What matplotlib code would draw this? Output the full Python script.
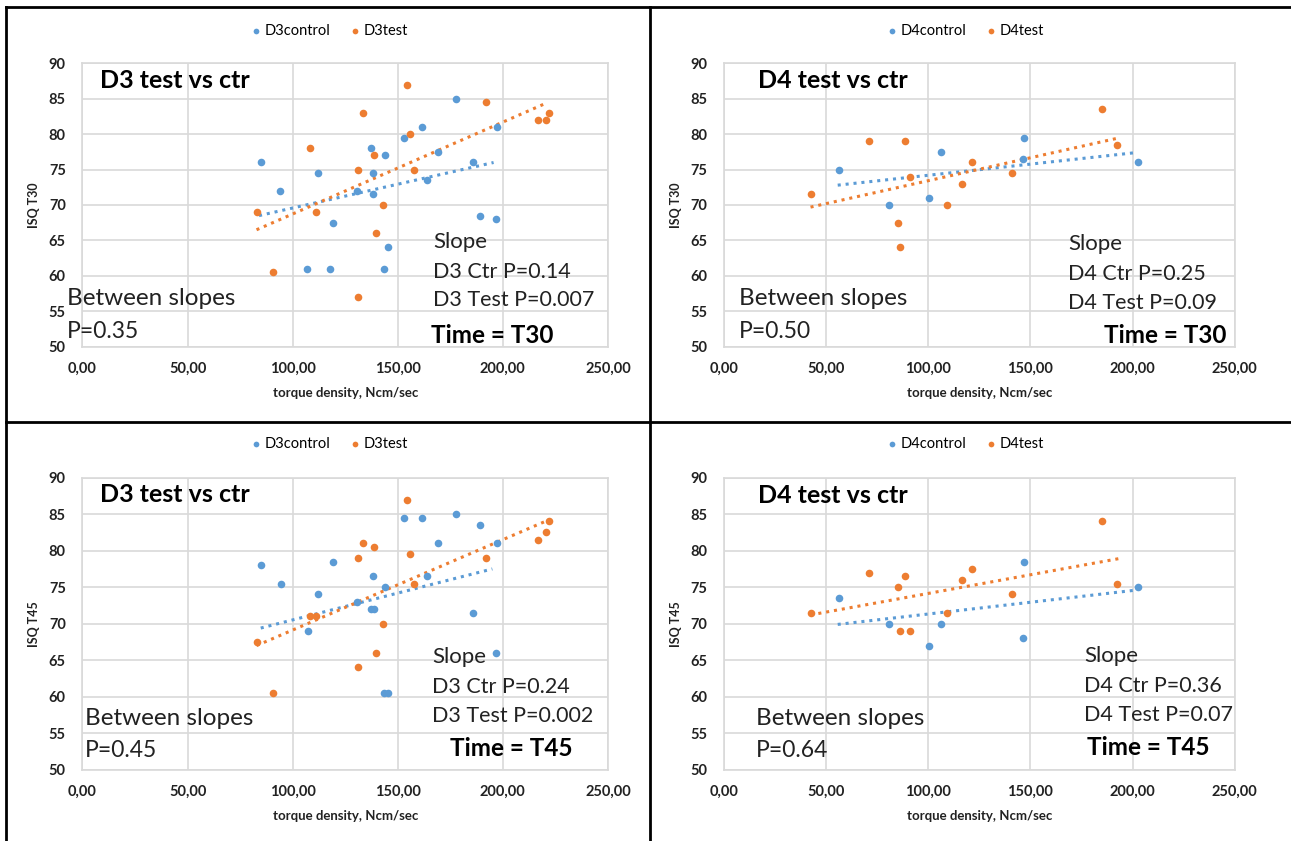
import numpy as np
import matplotlib
matplotlib.use('Agg')
import matplotlib.pyplot as plt
from matplotlib.lines import Line2D

plt.rcParams['font.family'] = ['Lato', 'DejaVu Sans']

BLUE = '#5B9BD5'
ORANGE = '#ED7D31'

# D3, time T30
d3_t30_ctrl_x = [85, 94, 112, 107, 117.7, 119, 130.7, 137.5, 138.1, 138.4, 143.7, 143.4, 145.3,
                 152.8, 161.4, 163.9, 169.3, 177.7, 185.6, 188.9, 196.7, 197.2]
d3_t30_ctrl_y = [76, 72, 74.5, 61, 61, 67.5, 72, 78, 74.5, 71.5, 77, 61, 64,
                 79.5, 81, 73.5, 77.5, 85, 76, 68.5, 68, 81]
d3_t30_test_x = [82.8, 90.7, 108.4, 110.9, 131.3, 133.4, 131, 138.6, 142.9, 139.7, 154.6, 155.7,
                 157.9, 192.1, 216.8, 220.4, 222]
d3_t30_test_y = [69, 60.5, 78, 69, 75, 83, 57, 77, 70, 66, 87, 80,
                 75, 84.5, 82, 82, 83]
# trendline ends
d3_t30_ctrl_trend_x = [84, 195.6]
d3_t30_ctrl_trend_y = [68.5, 76.0]
d3_t30_test_trend_x = [82.8, 220.4]
d3_t30_test_trend_y = [66.5, 84.35]

# D4, time T30
d4_t30_ctrl_x = [56.2, 81, 100.2, 106.3, 146.5, 146.9, 202.8]
d4_t30_ctrl_y = [75, 70, 71, 77.5, 76.5, 79.5, 76]
d4_t30_test_x = [42.4, 71, 88.6, 85.4, 86.4, 91.3, 109, 116.7, 121.3, 141, 185.2, 192.2]
d4_t30_test_y = [71.5, 79, 79, 67.5, 64, 74, 70, 73, 76, 74.5, 83.5, 78.5]
d4_t30_ctrl_trend_x = [55.7, 201.7]
d4_t30_ctrl_trend_y = [72.8, 77.4]
d4_t30_test_trend_x = [42.4, 192.2]
d4_t30_test_trend_y = [69.7, 79.4]

# D3, time T45
d3_t45_ctrl_x = [85, 94.3, 112, 107.1, 119.1, 130.7, 137.2, 138.6, 138.4, 143.7, 143.4, 145.3,
                 152.8, 161.4, 163.9, 169.3, 177.7, 185.6, 188.9, 196.7, 197.2]
d3_t45_ctrl_y = [78, 75.5, 74, 69, 78.5, 73, 72, 72, 76.5, 75, 60.5, 60.5,
                 84.5, 84.5, 76.5, 81, 85, 71.5, 83.5, 66, 81]
d3_t45_test_x = [82.8, 90.7, 108.4, 110.9, 131.3, 133.4, 131, 138.6, 142.9, 139.7, 154.6, 155.7,
                 157.9, 192.1, 216.8, 220.4, 222]
d3_t45_test_y = [67.5, 60.5, 71, 71, 79, 81, 64, 80.5, 70, 66, 87, 79.5,
                 75.5, 79, 81.5, 82.5, 84]
d3_t45_ctrl_trend_x = [84.8, 195]
d3_t45_ctrl_trend_y = [69.4, 77.5]
d3_t45_test_trend_x = [82.8, 221.7]
d3_t45_test_trend_y = [67, 84.2]

# D4, time T45
d4_t45_ctrl_x = [56.2, 81, 100.2, 106.3, 146.5, 146.9, 202.8]
d4_t45_ctrl_y = [73.5, 70, 67, 70, 68, 78.5, 75]
d4_t45_test_x = [42.4, 71, 85.4, 88.6, 86.4, 91.3, 109, 116.7, 121.3, 141, 185.2, 192.2]
d4_t45_test_y = [71.5, 77, 75, 76.5, 69, 69, 71.5, 76, 77.5, 74, 84, 75.5]
d4_t45_ctrl_trend_x = [55.7, 201.7]
d4_t45_ctrl_trend_y = [69.9, 74.6]
d4_t45_test_trend_x = [42.4, 193]
d4_t45_test_trend_y = [71.2, 78.9]

x_ticks = [0, 50, 100, 150, 200, 250]
x_tick_labels = ['0,00', '50,00', '100,00', '150,00', '200,00', '250,00']
y_ticks = [50, 55, 60, 65, 70, 75, 80, 85, 90]

panels = [
    dict(rect=[0.0639, 0.5878, 0.4070, 0.3369], cx=d3_t30_ctrl_x, cy=d3_t30_ctrl_y,
         tx=d3_t30_test_x, ty=d3_t30_test_y,
         ctr_tr=(d3_t30_ctrl_trend_x, d3_t30_ctrl_trend_y),
         test_tr=(d3_t30_test_trend_x, d3_t30_test_trend_y),
         names=('D3control', 'D3test'), ylabel='ISQ T30',
         title='D3 test vs ctr', title_pos=(0.033, 0.941),
         between_pos=(-0.029, 0.171, 0.053), p_between='P=0.35',
         slope_pos=(0.668, 0.368, 0.265, 0.165), ctr='D3 Ctr P=0.14', test='D3 Test P=0.007',
         time='Time = T30', time_pos=(0.664, 0.041), leg=(0.2556, 0.963)),
    dict(rect=[0.5607, 0.5878, 0.3958, 0.3369], cx=d4_t30_ctrl_x, cy=d4_t30_ctrl_y,
         tx=d4_t30_test_x, ty=d4_t30_test_y,
         ctr_tr=(d4_t30_ctrl_trend_x, d4_t30_ctrl_trend_y),
         test_tr=(d4_t30_test_trend_x, d4_t30_test_trend_y),
         names=('D4control', 'D4test'), ylabel='ISQ T30',
         title='D4 test vs ctr', title_pos=(0.0675, 0.939),
         between_pos=(0.030, 0.171, 0.053), p_between='P=0.50',
         slope_pos=(0.674, 0.361, 0.256, 0.154), ctr='D4 Ctr P=0.25', test='D4 Test P=0.09',
         time='Time = T30', time_pos=(0.743, 0.041), leg=(0.748, 0.963)),
    dict(rect=[0.0639, 0.0848, 0.4070, 0.3472], cx=d3_t45_ctrl_x, cy=d3_t45_ctrl_y,
         tx=d3_t45_test_x, ty=d3_t45_test_y,
         ctr_tr=(d3_t45_ctrl_trend_x, d3_t45_ctrl_trend_y),
         test_tr=(d3_t45_test_trend_x, d3_t45_test_trend_y),
         names=('D3control', 'D3test'), ylabel='ISQ T45',
         title='D3 test vs ctr', title_pos=(0.033, 0.941),
         between_pos=(0.005, 0.176, 0.067), p_between='P=0.45',
         slope_pos=(0.666, 0.385, 0.284, 0.185), ctr='D3 Ctr P=0.24', test='D3 Test P=0.002',
         time='Time = T45', time_pos=(0.699, 0.073), leg=(0.2556, 0.472)),
    dict(rect=[0.5607, 0.0848, 0.3958, 0.3472], cx=d4_t45_ctrl_x, cy=d4_t45_ctrl_y,
         tx=d4_t45_test_x, ty=d4_t45_test_y,
         ctr_tr=(d4_t45_ctrl_trend_x, d4_t45_ctrl_trend_y),
         test_tr=(d4_t45_test_trend_x, d4_t45_test_trend_y),
         names=('D4control', 'D4test'), ylabel='ISQ T45',
         title='D4 test vs ctr', title_pos=(0.0675, 0.938),
         between_pos=(0.062, 0.176, 0.067), p_between='P=0.64',
         slope_pos=(0.705, 0.389, 0.287, 0.187), ctr='D4 Ctr P=0.36', test='D4 Test P=0.07',
         time='Time = T45', time_pos=(0.710, 0.075), leg=(0.748, 0.472)),
]

fig = plt.figure(figsize=(12.91, 8.41), dpi=100)

for p in panels:
    ax = fig.add_axes(p['rect'])
    ax.scatter(p['cx'], p['cy'], s=30, color=BLUE, zorder=3, label=p['names'][0], linewidths=0)
    ax.scatter(p['tx'], p['ty'], s=30, color=ORANGE, zorder=3, label=p['names'][1], linewidths=0)
    # dotted linear trendlines
    ax.plot(*p['ctr_tr'], linestyle=(0, (1, 1.6)), color=BLUE, linewidth=2.2, zorder=2)
    ax.plot(*p['test_tr'], linestyle=(0, (1, 1.6)), color=ORANGE, linewidth=2.2, zorder=2)

    ax.set_xlim(0, 250)
    ax.set_ylim(50, 90)
    ax.set_xticks(x_ticks)
    ax.set_xticklabels(x_tick_labels)
    ax.set_yticks(y_ticks)
    ax.grid(True, color='#D9D9D9', linewidth=1.2)
    ax.set_axisbelow(True)
    for s in ax.spines.values():
        s.set_color('#D9D9D9')
        s.set_linewidth(1.2)
    ax.tick_params(length=0, labelsize=10.5, colors='#222222')
    ax.tick_params(axis='x', pad=11)
    ax.tick_params(axis='y', pad=12)
    for lab in ax.get_xticklabels() + ax.get_yticklabels():
        lab.set_fontweight('bold')
    ax.set_xlabel('torque density, Ncm/sec', fontsize=9.5, fontweight='bold', labelpad=8,
                  color='#222222')
    ax.set_ylabel(p['ylabel'], fontsize=9, fontweight='bold', labelpad=6, color='#222222')

    ax.text(p['title_pos'][0], p['title_pos'][1], p['title'], transform=ax.transAxes,
            fontsize=18, fontweight='bold', va='center', ha='left')
    bx, by1, by2 = p['between_pos']
    ax.text(bx, by1, 'Between slopes', transform=ax.transAxes, fontsize=17.5,
            va='center', ha='left', color='#222222')
    ax.text(bx, by2, p['p_between'], transform=ax.transAxes, fontsize=16.5,
            va='center', ha='left', color='#222222')
    sx, sy1, sy2, sy3 = p['slope_pos']
    ax.text(sx, sy1, 'Slope', transform=ax.transAxes, fontsize=16, va='center', ha='left',
            color='#222222')
    ax.text(sx, sy2, p['ctr'], transform=ax.transAxes, fontsize=15.5, va='center', ha='left',
            color='#222222')
    ax.text(sx, sy3, p['test'], transform=ax.transAxes, fontsize=15.5, va='center', ha='left',
            color='#222222')
    ax.text(p['time_pos'][0], p['time_pos'][1], p['time'], transform=ax.transAxes,
            fontsize=17.5, fontweight='bold', va='center', ha='left')

    ax.legend(loc='center', bbox_to_anchor=p['leg'], bbox_transform=fig.transFigure,
              ncol=2, frameon=False, fontsize=10.5, markerscale=0.75, handlelength=0.6,
              handletextpad=0.3, columnspacing=1.4, borderaxespad=0)

# panel frame lines
frame = dict(color='black', linewidth=2, transform=fig.transFigure)
fig.add_artist(Line2D([0.0045, 0.0045], [0, 0.992], **frame))
fig.add_artist(Line2D([0.0045, 1.0], [0.992, 0.992], **frame))
fig.add_artist(Line2D([0.5035, 0.5035], [0, 0.992], **frame))
fig.add_artist(Line2D([0.0045, 1.0], [0.4985, 0.4985], **frame))

fig.savefig('out.png', dpi=100)
